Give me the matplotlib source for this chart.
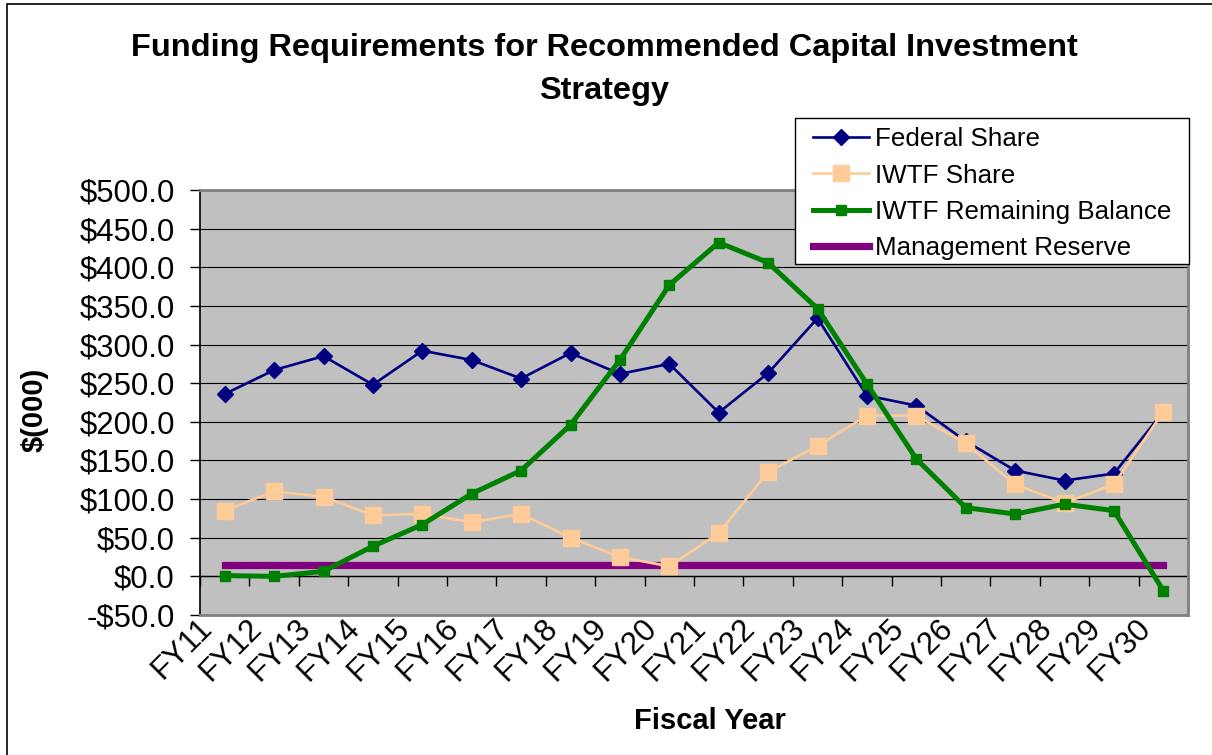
import matplotlib
matplotlib.use("Agg")
import matplotlib.pyplot as plt
from matplotlib.patches import Rectangle
from matplotlib.transforms import ScaledTranslation

plt.rcParams['font.family'] = ['Liberation Sans', 'DejaVu Sans']

years = ["FY11", "FY12", "FY13", "FY14", "FY15", "FY16", "FY17", "FY18", "FY19", "FY20",
         "FY21", "FY22", "FY23", "FY24", "FY25", "FY26", "FY27", "FY28", "FY29", "FY30"]
federal_share = [236, 267, 285, 248, 292, 280, 256, 289, 262, 275,
                 212, 263, 334, 234, 221, 175, 137, 124, 133, 213]
iwtf_share = [85, 110, 103, 79, 81, 70, 81, 50, 25, 13,
              56, 135, 169, 208, 208, 172, 119, 95, 119, 213]
iwtf_balance = [1, 0, 6.5, 39, 67, 107, 137, 196, 280, 377,
                432, 406, 346.5, 249, 152, 89, 80.6, 93.5, 85, -18.5]
mgmt_reserve = [15, 15, 15, 15, 15, 15, 15, 15, 15, 15,
                15, 15, 15, 15, 15, 15, 15, 15, 15, 15]
y_ticks = [-50, 0, 50, 100, 150, 200, 250, 300, 350, 400, 450, 500]

W, H = 1212, 755
fig = plt.figure(figsize=(W / 100, H / 100), dpi=100)
fig.patch.set_facecolor('white')

ax = fig.add_axes([200 / W, 1 - 615 / H, (1188 - 200) / W, (615 - 190) / H])
ax.set_facecolor('#C0C0C0')

x = list(range(len(years)))

ax.plot(x, mgmt_reserve, color='#800080', lw=5.2, solid_capstyle='projecting', zorder=3,
        label='Management Reserve')
ax.plot(x, federal_share, color='#000080', lw=1.9, marker='D', ms=8, zorder=4,
        label='Federal Share')
ax.plot(x, iwtf_share, color='#FFCC99', lw=1.9, marker='s', ms=11, zorder=5,
        label='IWTF Share')
ax.plot(x, iwtf_balance, color='#008000', lw=3.6, marker='s', ms=6.5, zorder=6,
        label='IWTF Remaining Balance')

ax.set_xlim(-0.5, len(years) - 0.5)
ax.set_ylim(-50, 500)
ax.set_yticks(y_ticks)
ax.set_yticklabels([("-$%.1f" % abs(v)) if v < 0 else ("$%.1f" % v) for v in y_ticks],
                   fontsize=22.4)
ax.yaxis.grid(True, color='black', lw=0.8, zorder=1)
ax.set_axisbelow(True)
ax.tick_params(axis='y', direction='out', length=7.2, width=1, color='black', pad=11)

# category labels, rotated, hanging below the plot area
ax.set_xticks(x)
ax.set_xticklabels([])
ax.tick_params(axis='x', length=0)
lab_off = ScaledTranslation(-6.6 / 100, 2 / 100, fig.dpi_scale_trans)
for i, name in zip(x, years):
    ax.text(i, 0, name, transform=ax.get_xaxis_transform() + lab_off,
            rotation=45, ha='right', va='top', fontsize=22.4, clip_on=False)

for s in ['top', 'right', 'bottom']:
    ax.spines[s].set_color('#808080')
    ax.spines[s].set_linewidth(2)
ax.spines['left'].set_color('black')
ax.spines['left'].set_linewidth(1.2)

# category axis crossing at zero
sec = ax.secondary_xaxis(50 / 550)
sec.set_xticks([i - 0.5 for i in range(len(years) + 1)])
sec.xaxis.set_ticks_position('bottom')
sec.tick_params(axis='x', direction='out', length=7, width=1, color='black',
                labelbottom=False, labeltop=False)
sec.spines['bottom'].set_color('black')
sec.spines['bottom'].set_linewidth(1)

fig.text(710 / W, 1 - 729 / H, 'Fiscal Year', fontsize=21, fontweight='bold',
         ha='center', va='baseline')
fig.text(35 / W, 1 - 410 / H, '$(000)', fontsize=21, fontweight='bold', rotation=90,
         ha='center', va='center')

fig.text(604 / W, 1 - 56 / H, 'Funding Requirements for Recommended Capital Investment',
         fontsize=23.4, fontweight='bold', ha='center', va='baseline')
fig.text(604 / W, 1 - 99 / H, 'Strategy', fontsize=23.4, fontweight='bold',
         ha='center', va='baseline')

# legend frame
fig.patches.append(Rectangle((795 / W, 1 - 264 / H), (1189 - 795) / W, (264 - 118) / H,
                             transform=fig.transFigure, facecolor='white',
                             edgecolor='black', lw=1, zorder=4))

handles, labels = ax.get_legend_handles_labels()
order = [1, 2, 3, 0]
leg = fig.legend([handles[i] for i in order], [labels[i] for i in order],
                 loc='upper left', bbox_to_anchor=(804 / W, 1 - 118 / H),
                 fontsize=18.7, frameon=False, borderaxespad=0,
                 handlelength=2.15, handletextpad=0.23, labelspacing=0.48,
                 borderpad=0.35)
leg.set_zorder(5)

fig.patches.append(Rectangle((7 / W, -0.05), 1.2, 1.05 - 4 / H, transform=fig.transFigure,
                             fill=False, edgecolor='black', lw=1.2))

fig.savefig('out.png', dpi=100)
